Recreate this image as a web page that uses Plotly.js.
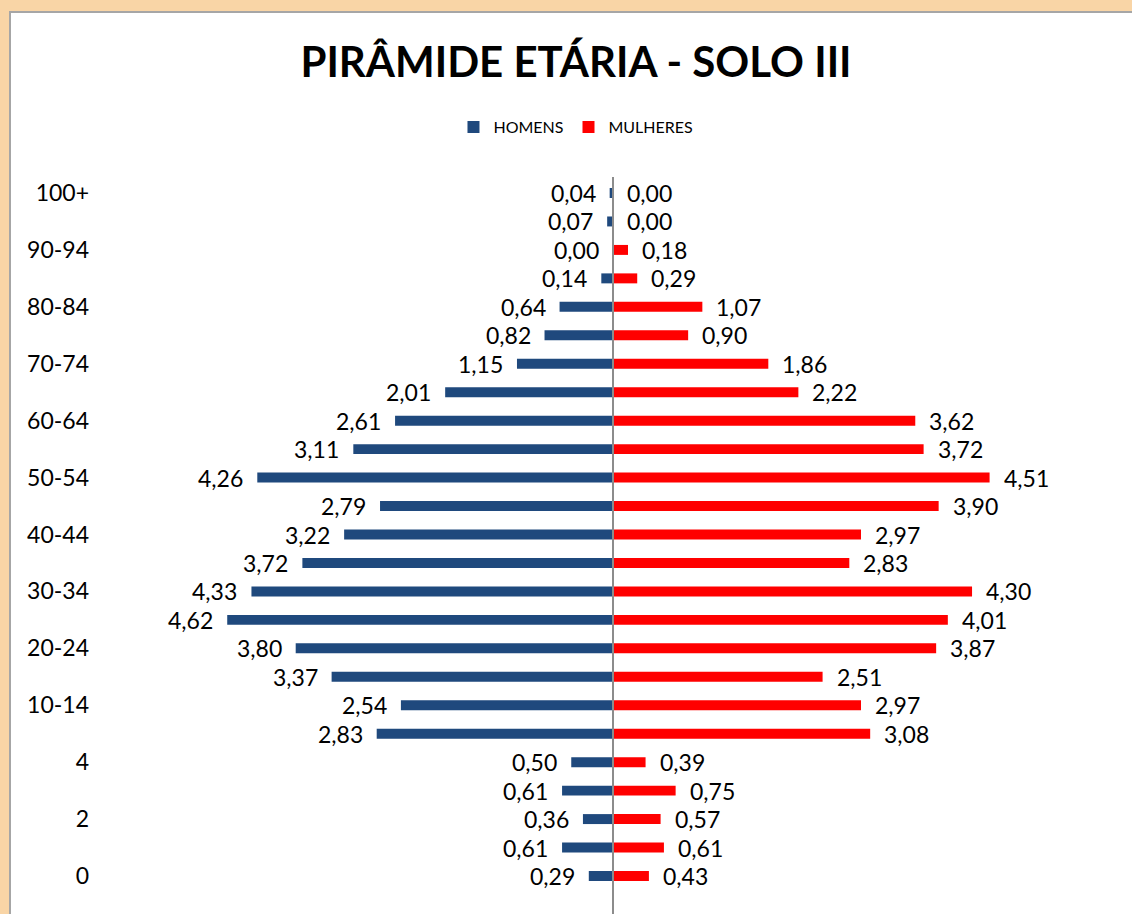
<!DOCTYPE html>
<html>
<head>
<meta charset="utf-8">
<script src="https://cdn.plot.ly/plotly-3.0.1.min.js"></script>
<style>
  html, body { margin: 0; padding: 0; width: 1132px; height: 914px; overflow: hidden; background: #F9D5A6; }
  #chart { position: absolute; left: 9px; top: 11px; width: 1121px; height: 901px;
           border-left: 2px solid #A6A6A6; border-top: 2px solid #A6A6A6; background: #fff; }
</style>
</head>
<body>
<div id="chart"></div>
<script>
// Age groups, bottom to top
const ageGroups = ['0','1','2','3','4','5-9','10-14','15-19','20-24','25-29','30-34','35-39',
  '40-44','45-49','50-54','55-59','60-64','65-69','70-74','75-79','80-84','85-89','90-94','95-99','100+'];
// Percentages
const homens = [0.29,0.61,0.36,0.61,0.50,2.83,2.54,3.37,3.80,4.62,4.33,3.72,
  3.22,2.79,4.26,3.11,2.61,2.01,1.15,0.82,0.64,0.14,0.00,0.07,0.04];
const mulheres = [0.43,0.61,0.57,0.75,0.39,3.08,2.97,2.51,3.87,4.01,4.30,2.83,
  2.97,3.90,4.51,3.72,3.62,2.22,1.86,0.90,1.07,0.29,0.18,0.00,0.00];
// Shown axis labels
const tickLabels = ['0','2','4','10-14','20-24','30-34','40-44','50-54','60-64','70-74','80-84','90-94','100+'];

const fmt = v => v.toFixed(2).replace('.', ',');
const FONT = 'Lato, Calibri, Carlito, sans-serif';

const traces = [
  { type: 'bar', orientation: 'h', name: 'HOMENS', y: ageGroups, x: homens.map(v => -v),
    marker: { color: '#1F497D' }, width: 0.35, hoverinfo: 'skip' },
  { type: 'bar', orientation: 'h', name: 'MULHERES', y: ageGroups, x: mulheres,
    marker: { color: '#FF0000' }, width: 0.35, hoverinfo: 'skip' }
];

const annotations = [];
ageGroups.forEach((g, i) => {
  annotations.push({ x: -homens[i], y: g, xref: 'x', yref: 'y', text: fmt(homens[i]),
    showarrow: false, xanchor: 'right', yanchor: 'middle', xshift: -12,
    font: { family: FONT, size: 23, color: '#000' } });
  annotations.push({ x: mulheres[i], y: g, xref: 'x', yref: 'y', text: fmt(mulheres[i]),
    showarrow: false, xanchor: 'left', yanchor: 'middle', xshift: 12,
    font: { family: FONT, size: 23, color: '#000' } });
});

const layout = {
  width: 1121, height: 901,
  margin: { l: 101, r: 18, t: 164, b: 22 },
  paper_bgcolor: '#ffffff', plot_bgcolor: '#ffffff',
  barmode: 'overlay',
  title: { text: '<b>PIRÂMIDE ETÁRIA - SOLO III</b>', xref: 'container', x: 0.504,
    yref: 'container', y: 0.9456, xanchor: 'center', yanchor: 'middle',
    font: { family: FONT, size: 42, color: '#000' } },
  legend: { orientation: 'h', xref: 'container', yref: 'container', x: 0.504, y: 0.8735,
    xanchor: 'center', yanchor: 'middle', traceorder: 'normal',
    font: { family: FONT, size: 16, color: '#000' }, itemwidth: 30 },
  xaxis: { range: [-6, 6], showticklabels: false, showgrid: false, zeroline: false,
    showline: false, ticks: '', fixedrange: true },
  yaxis: { type: 'category', categoryorder: 'array', categoryarray: ageGroups,
    tickmode: 'array', tickvals: tickLabels, ticktext: tickLabels,
    showgrid: false, zeroline: false, showline: false, ticks: '', ticklabelstandoff: 22,
    tickfont: { family: FONT, size: 23, color: '#000' }, fixedrange: true },
  shapes: [
    { type: 'line', xref: 'x', yref: 'paper', x0: 0, x1: 0, y0: -0.04, y1: 1.0,
      line: { color: '#8C8C8C', width: 2 }, layer: 'above' }
  ],
  annotations: annotations,
  showlegend: true
};

Plotly.newPlot('chart', traces, layout, { displayModeBar: false, staticPlot: true });
</script>
</body>
</html>
